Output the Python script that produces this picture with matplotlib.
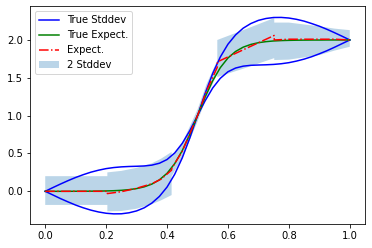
import matplotlib.pyplot as plt
import numpy as np

# true curves
x_true = [0.0, 0.025, 0.05, 0.075, 0.1, 0.125, 0.15, 0.175, 0.2, 0.225,
          0.25, 0.275, 0.3, 0.325, 0.35, 0.375, 0.4, 0.425, 0.45, 0.475,
          0.5, 0.525, 0.55, 0.575, 0.6, 0.625, 0.65, 0.675, 0.7, 0.725,
          0.75, 0.775, 0.8, 0.825, 0.85, 0.875, 0.9, 0.925, 0.95, 0.975, 1.0]
true_mean = [0.0, 0.0, 0.0, 0.0, 0.001, 0.001, 0.002, 0.003, 0.005, 0.008,
             0.013, 0.022, 0.036, 0.059, 0.095, 0.152, 0.238, 0.365, 0.538, 0.755,
             1.0, 1.245, 1.462, 1.635, 1.762, 1.848, 1.905, 1.941, 1.964, 1.978,
             1.987, 1.992, 1.995, 1.997, 1.998, 1.999, 1.999, 2.0, 2.0, 2.0, 2.0]
true_upper = [0.0, 0.049, 0.096, 0.141, 0.183, 0.220, 0.253, 0.279, 0.300, 0.314,
              0.323, 0.328, 0.331, 0.335, 0.346, 0.371, 0.420, 0.506, 0.634, 0.804,
              1.0, 1.293, 1.558, 1.776, 1.944, 2.067, 2.156, 2.217, 2.259, 2.284,
              2.297, 2.298, 2.290, 2.273, 2.249, 2.217, 2.182, 2.141, 2.096, 2.049, 2.0]
true_lower = [0.0, -0.048, -0.096, -0.140, -0.182, -0.218, -0.249, -0.273, -0.290, -0.298,
              -0.297, -0.284, -0.259, -0.218, -0.156, -0.067, 0.056, 0.224, 0.442, 0.707,
              1.0, 1.196, 1.366, 1.494, 1.580, 1.629, 1.654, 1.665, 1.669, 1.672,
              1.677, 1.686, 1.700, 1.721, 1.747, 1.779, 1.817, 1.858, 1.904, 1.952, 2.0]

# estimated curve, piecewise (repeated x = jump between pieces)
x_est = [0.0, 0.204, 0.204, 0.25, 0.30, 0.35, 0.38, 0.415, 0.415, 0.45,
         0.50, 0.53, 0.565, 0.565, 0.65, 0.752, 0.752, 0.80, 0.90, 0.95, 1.0]
est_mean = [0.0, 0.0, -0.03, -0.005, 0.04, 0.10, 0.16, 0.28, 0.30, 0.53,
            1.0, 1.33, 1.64, 1.71, 1.87, 2.06, 2.0, 2.01, 2.01, 2.01, 2.0]
band_lo = [-0.18, -0.18, -0.265, -0.26, -0.23, -0.17, -0.12, -0.05, 0.20, 0.44,
           0.92, 1.25, 1.55, 1.51, 1.62, 1.76, 1.735, 1.74, 1.80, 1.86, 1.91]
band_hi = [0.20, 0.20, 0.25, 0.27, 0.31, 0.37, 0.43, 0.52, 0.45, 0.64,
           1.08, 1.42, 1.73, 2.00, 2.13, 2.29, 2.23, 2.23, 2.18, 2.15, 2.13]

fig = plt.figure(figsize=(372 / 72, 248 / 72), dpi=72)
ax = fig.add_axes([30 / 372, 1 - 224 / 248, 335 / 372, 218 / 248])

ax.plot(x_true, true_upper, 'b', label='True Stddev')
ax.plot(x_true, true_lower, 'b')
ax.plot(x_true, true_mean, 'g', label='True Expect.')
ax.plot(x_est, est_mean, 'r-.', label='Expect.')
ax.fill_between(x_est, band_lo, band_hi, alpha=0.3, lw=0, label='2 Stddev')

ax.set_xlim(-0.05, 1.05)
ax.set_ylim(-0.432, 2.449)
ax.legend(loc='upper left')

fig.savefig('out.png', dpi=72)
